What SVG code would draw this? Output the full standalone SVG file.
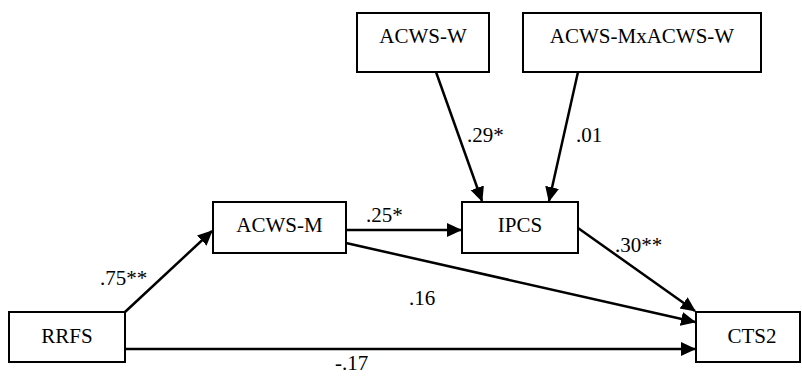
<svg xmlns="http://www.w3.org/2000/svg" width="802" height="382" viewBox="0 0 802 382">
  <style>
    .box { fill: #ffffff; stroke: #000000; stroke-width: 2; }
    .lbl { font-family: "Liberation Serif", "Times New Roman", serif; font-size: 21px; fill: #000000; }
    .mid { text-anchor: middle; }
    .path { stroke: #000000; stroke-width: 2.5; fill: none; marker-end: url(#arrow); }
  </style>
  <defs>
    <marker id="arrow" markerUnits="userSpaceOnUse" markerWidth="16" markerHeight="15" refX="14" refY="7" orient="auto">
      <path d="M0,0 L15,7 L0,14 z" fill="#000000"/>
    </marker>
  </defs>

  <rect width="802" height="382" fill="#ffffff"/>

  <!-- paths between variables -->
  <g id="connectors">
    <line class="path" x1="125" y1="312" x2="212" y2="231"/>
    <line class="path" x1="346" y1="230" x2="461" y2="230"/>
    <line class="path" x1="346" y1="243" x2="695" y2="322"/>
    <line class="path" x1="578" y1="228" x2="695" y2="311"/>
    <line class="path" x1="125" y1="349" x2="695" y2="349"/>
    <line class="path" x1="436" y1="72" x2="482" y2="201"/>
    <line class="path" x1="578" y1="72" x2="549" y2="201"/>
  </g>

  <!-- path coefficients -->
  <g id="coefficients">
    <text class="lbl" x="100" y="285">.75**</text>
    <text class="lbl" x="366" y="222">.25*</text>
    <text class="lbl" x="467" y="142">.29*</text>
    <text class="lbl" x="576" y="142">.01</text>
    <text class="lbl" x="615" y="252">.30**</text>
    <text class="lbl" x="409" y="305">.16</text>
    <text class="lbl" x="335" y="370">-.17</text>
  </g>

  <g id="acws-w">
    <rect class="box" x="357" y="13" width="132" height="59"/>
    <text class="lbl mid" x="423" y="43">ACWS-W</text>
  </g>
  <g id="acws-mxacws-w">
    <rect class="box" x="523" y="13" width="238" height="59"/>
    <text class="lbl mid" x="642" y="43">ACWS-MxACWS-W</text>
  </g>
  <g id="acws-m">
    <rect class="box" x="213" y="202" width="133" height="51"/>
    <text class="lbl mid" x="279.5" y="232">ACWS-M</text>
  </g>
  <g id="ipcs">
    <rect class="box" x="462" y="202" width="116" height="51"/>
    <text class="lbl mid" x="520" y="232">IPCS</text>
  </g>
  <g id="rrfs">
    <rect class="box" x="9" y="312" width="116" height="50"/>
    <text class="lbl mid" x="67" y="343">RRFS</text>
  </g>
  <g id="cts2">
    <rect class="box" x="696" y="312" width="104" height="50"/>
    <text class="lbl mid" x="752" y="343">CTS2</text>
  </g>
</svg>
